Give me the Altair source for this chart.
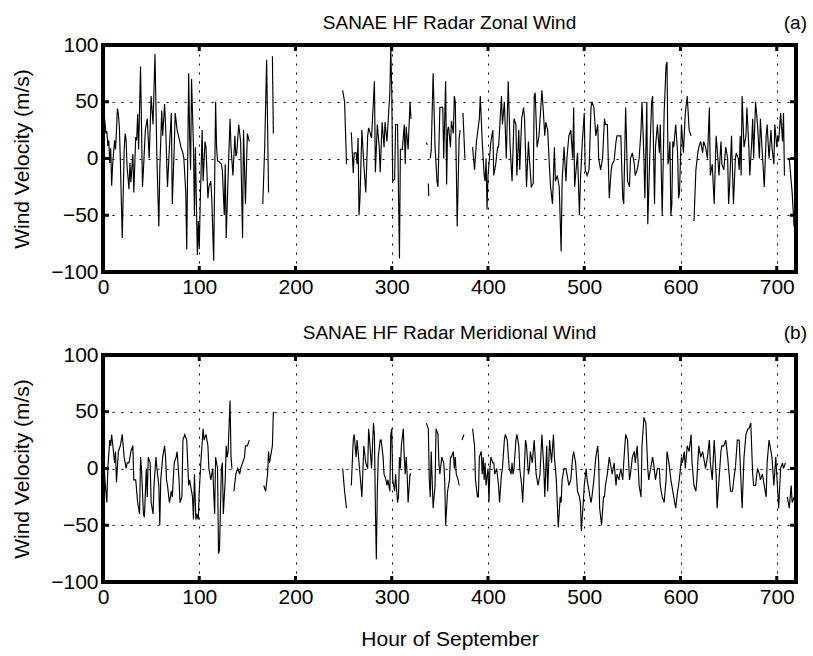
import altair as alt
import pandas as pd

FONT = "Liberation Sans"
W, H = 693, 227

x_tick_values = [0, 100, 200, 300, 400, 500, 600, 700]
y_tick_values = [-100, -50, 0, 50, 100]
inner_x_ticks = [100, 200, 300, 400, 500, 600, 700]
inner_y_ticks = [-50, 0, 50]

# Zonal wind (m/s) by hour of September, contiguous segments
zonal_segments = [
    [(1, 39), (2, 32), (3, 22), (4, 24), (5, 11), (6, 16), (7, -4), (8, 9), (9, -24), (10, -6),
     (11, 5), (12, 16), (13, 8), (14, 25), (15, 44), (16, 39), (17, 28), (18, -1), (20, -70), (22, 8),
     (23, 22), (24, 16), (25, -7), (27, -27), (28, -4), (29, -21), (31, 4), (32, -30), (34, 19), (35, 16),
     (36, 39), (37, 8), (39, 81), (41, -25), (42, -10), (44, 25), (46, 35), (48, 0), (50, 55), (52, 30),
     (54, 92), (56, 0), (58, -60), (59, -10), (61, 42), (62, 20), (64, 48), (65, 30), (67, -25), (69, 10),
     (71, 40), (72, -40), (74, 10), (75, 40), (77, 25), (79, 18), (81, 10), (83, 5), (84, 0), (86, -30),
     (87, -80), (89, 75), (90, 20), (91, -10), (92, 70), (94, 10), (95, -50), (96, 10), (98, -85), (99, -55),
     (100, -80), (101, -40), (103, 25), (104, -20), (106, 15), (107, 10), (109, -35), (110, -25), (112, -20), (113, -35),
     (115, -90), (117, 50), (118, 10), (119, -2), (121, -3), (123, -5), (124, -10), (126, -50), (127, -5), (128, -70),
     (130, -15), (132, 35), (133, 10), (135, -15), (137, 20), (138, 2), (139, 5), (141, 30), (143, 15), (145, -70),
     (146, 25), (148, -40), (150, 22), (152, 15)],
    [(166, -40), (168, 10), (170, 87), (172, -30)],
    [(176, 90), (177, 22)],
    [(249, 60), (251, 50), (253, -5)],
    [(258, 23), (260, -13), (261, 5), (263, 5), (264, -5), (265, 18), (266, -50), (267, -35), (269, 25), (271, -5),
     (273, -30), (275, 20), (276, 27), (279, 18), (282, 68), (283, -12), (285, 30), (287, 10), (288, -12), (290, 32),
     (292, 10), (293, 32), (295, 15), (298, 58), (299, 98), (300, 60), (301, -20), (303, -18), (304, 30), (306, 30),
     (308, -88), (309, 8), (311, 8), (313, 30), (314, -5), (315, 28), (317, 8), (319, 50), (320, 35)],
    [(336, 14), (337, 12)],
    [(338, -22), (338.5, -33)],
    [(340, 0), (341, 7), (343, 75), (345, 10), (347, -20), (348, -25), (350, 45), (352, 45), (353, 45), (354, 0),
     (356, 68), (357, -23), (358, 25), (359, 28), (361, 10), (362, 33), (364, 22), (365, 55), (366, 50), (368, -60),
     (370, 18), (371, 25)],
    [(374, 40), (376, 0)],
    [(384, 10), (385, 0), (386, -10), (388, 15), (391, 35), (392, 55), (394, 15), (396, -15), (397, -20), (398, 0),
     (399, -45), (400, -15), (401, -5), (403, 15), (405, 25), (406, -15), (408, -5), (410, 10), (411, 10), (414, 55),
     (415, 30), (417, 50), (419, 0), (421, 68), (423, 10), (425, -20), (427, 35), (429, 30), (430, -15), (432, 25),
     (433, -10), (435, 35), (437, 45), (438, 35), (440, -25), (442, 15), (443, 0), (445, -25), (447, -22), (448, 55),
     (449, 58), (451, 10), (453, 20), (456, 60), (457, 48), (459, 20), (460, 32), (462, 25), (464, -10), (465, -25),
     (467, -40), (469, 10), (470, -20), (472, -15), (474, -25), (476, -82), (477, -20), (479, 10), (481, -20), (482, 0),
     (484, 20), (486, 25), (488, 0), (489, 45), (490, -25), (493, 5), (495, -50), (496, -20), (498, 15), (500, 40),
     (501, -10), (503, -15), (505, -10), (507, 45), (508, 50), (510, 45), (512, 20), (514, 30), (515, 0), (517, -10),
     (519, 0), (521, 35), (522, 30), (524, 30), (526, -35), (528, -10), (529, -5), (531, -2), (533, 15), (534, 20),
     (536, 20), (538, 20), (540, -35), (541, -40), (543, 45), (545, -20), (547, -25), (548, 0), (550, 5), (552, -5),
     (553, -15), (555, -10), (557, 0), (559, 25), (560, 50), (562, 0), (563, -35), (565, 50), (566, -58), (568, 0),
     (570, 50), (571, 55), (573, -40), (574, 10), (576, 30), (578, 5), (579, 30), (581, -50), (583, 40), (585, 82),
     (586, 85), (587, -5), (588, 0), (589, 15), (590, -50), (591, -40), (592, 15), (593, 10), (595, 30), (597, 5),
     (598, -35), (599, -30), (601, 30), (603, 5), (605, 40), (607, 55), (609, 25), (611, 20)],
    [(614, -55), (616, -10), (618, 5), (619, 10), (621, 15), (623, 5), (624, 15), (626, 10), (628, 0), (630, 45),
     (631, -15), (633, -5), (635, -40), (637, 20), (638, 10), (640, -15), (642, 15), (643, -5), (645, -10), (647, 10),
     (649, 0), (650, -40), (651, -25), (653, 20), (655, -40), (657, 0), (658, 5), (660, 0), (661, -10), (662, 20),
     (663, -15), (664, 55), (666, 10), (668, 20), (669, 45), (671, 10), (672, -15), (674, 15), (675, 35), (676, 0),
     (678, 50), (680, 30), (682, 0), (683, 35), (685, 5), (687, -25), (689, 20), (690, 30), (692, 0), (694, 25),
     (695, 10), (697, -5), (698, 30), (700, 10), (701, 20), (702, 15), (704, 40), (706, 15), (707, 40), (708, -15)],
    [(711, 0), (713, 0), (715, -20), (716, -30), (718, -60), (719, -55)],
]

# Meridional wind (m/s) by hour of September, contiguous segments
meridional_segments = [
    [(1, 5), (2, -10), (4, -30), (5, 0), (7, 25), (8, 20), (9, 30), (10, 22), (12, 5), (13, 15),
     (14, -12), (16, 15), (18, 20), (20, 30), (22, 10), (24, 0), (25, 5), (27, 5), (29, 15), (31, 20),
     (32, -10), (34, -10), (36, -30), (38, -40), (39, 10), (40, 0), (42, -40), (43, -43), (45, 0), (46, -25),
     (47, 10), (49, 5), (50, -30), (52, -40), (53, -15), (55, 10), (56, 0), (58, -15), (59, -50), (60, -10),
     (62, 10), (64, 20), (65, 10), (66, -10), (67, -15), (69, -30), (71, -20), (72, -25), (74, 5), (76, 10),
     (77, 15), (79, -10), (80, -30), (82, -25), (83, 25), (85, 30), (87, 25), (89, -15), (90, -10), (92, -20),
     (93, -25), (94, -45), (95, -5), (96.5, -45), (97.5, -40), (99, -45), (100, -20), (102, 10), (104, 35), (105, 25),
     (107, 30), (109, 20), (110, 0), (112, -10), (114, 0), (116, -40), (117, 10), (119, 0), (120, -75), (121, -72),
     (123, 0), (124, 5), (125, -40), (127, -10), (128, 20), (129, 10), (130, 15), (132, 60), (133, 10), (134, 0)],
    [(136, -20), (138, -5), (140, 0), (142, -5), (143, 0), (145, 5), (147, 10), (148, 20), (150, 20), (152, 25)],
    [(167, -15), (169, -20), (171, -5), (172, 15), (173, 5), (174, 10), (176, 20), (177, 50)],
    [(249, 0), (251, -20), (253, -35)],
    [(258, -15), (260, 25), (261, 30), (263, 10), (264, 25), (266, 5), (268, -15), (269, -25), (271, 20), (273, 5),
     (275, 0), (276, 35), (277, 25), (279, 0), (281, 40), (282, 30), (283, -35), (284, -80), (285, -20), (286, 10),
     (288, 25), (289, 25), (291, 10), (292, -5), (294, -10), (295, -15), (296, -10), (298, -20), (299, 30), (300, 35),
     (301, -10), (303, -20), (304, -5), (306, -30), (307, -25), (308, 10), (309, 0), (310, 20), (312, 35), (313, 10),
     (314, -5), (315, 10), (316, -5), (317, -30), (319, -5), (320, -5)],
    [(336, 40), (338, 35), (339, -10), (340, -25), (341, 15), (343, -35), (345, -15), (346, 35), (348, 30), (349, 5),
     (350, -5), (352, 10), (354, 5), (355, -10), (356, -50), (357, -35), (358, -20), (360, -10), (361, 10), (362, 10),
     (364, 15), (365, 0), (366, 10), (367, -5), (369, -10), (370, -15)],
    [(373, 25), (375, 30)],
    [(384, 35), (386, 20), (387, -10), (389, -25), (390, -25), (391, 10), (393, 15), (394, -5), (395, 10), (396, -10),
     (397, 5), (398, -15), (400, 0), (401, -30), (402, 0), (403, 10), (405, 5), (406, 5), (407, -5), (409, 0),
     (411, -15), (412, -30), (414, -5), (415, 0), (417, 25), (418, 30), (420, 25), (422, 0), (424, -5), (425, 5),
     (426, -5), (427, 0), (429, 25), (430, 30), (432, 20), (433, 0), (435, -15), (436, -30), (438, 5), (439, 25),
     (440, 20), (442, -5), (443, 0), (444, 15), (446, 5), (448, 25), (449, 10), (450, -5), (452, -15), (454, -5),
     (456, 30), (458, 0), (459, -25), (461, 20), (462, -20), (464, 25), (466, 5), (468, 30), (469, 10), (471, -10),
     (473, -52), (475, -25), (476, -30), (477, -10), (479, 0), (481, 0), (482, -5), (484, -15), (486, -10), (488, 10),
     (489, 15), (491, 5), (493, -20), (495, -25), (496, -30), (497, -55), (499, -30), (500, -15), (502, 0), (503, -10),
     (505, -20), (507, -30), (508, -25), (510, -10), (512, 10), (514, 20), (515, 5), (516, -35), (518, -50), (520, -25),
     (521, -25), (522, -15), (524, -5), (526, 10), (528, 0), (529, -5), (531, 5), (533, -15), (534, -5), (536, -10),
     (538, 0), (540, -10), (541, 5), (543, 30), (545, 25), (547, -10), (548, -5), (550, 10), (552, 15), (553, 5),
     (555, 20), (557, -15), (559, -25), (560, 20), (562, 45), (564, 40), (566, 0), (567, -10), (569, 0), (571, 10),
     (572, 5), (574, -10), (576, 0), (578, 0), (579, -15), (581, -25), (583, -30), (585, -10), (586, 15), (588, 5),
     (590, -10), (592, -20), (593, -25), (595, -35), (597, -20), (598, -15), (600, 0), (601, 10), (602, 5), (604, 15),
     (605, 0), (607, 20), (609, 15), (611, 30), (612, 5), (614, -15), (616, -20), (617, -10), (619, 20), (621, 10),
     (623, 15), (624, 10), (626, 0), (628, 10), (630, 25), (631, 5), (633, -10), (635, 25), (637, -5), (638, -35),
     (640, -10), (642, 15), (643, 20), (645, 20), (647, 25), (649, 10), (650, 0), (652, -20), (654, -20), (656, -5),
     (657, 0), (659, 25), (661, 25), (663, -15), (664, -35), (666, 10), (668, 30), (670, 35), (671, 35), (673, 40),
     (675, -5), (676, -15), (678, -15), (680, 0), (682, -5), (683, -10), (685, -5), (687, -15), (689, -25), (690, 5),
     (692, 25), (694, 15), (695, 10), (697, -15), (699, 10), (701, -20), (702, -35), (704, 0), (706, 5), (707, 0),
     (709, 5)],
    [(711, -25), (713, -35), (715, -15), (716, -30), (718, -25)],
]


def to_frame(segments):
    rows = []
    for i, seg in enumerate(segments):
        for h, v in seg:
            rows.append({"hour": h, "wind": v, "seg": i})
    return pd.DataFrame(rows)


x_scale = alt.Scale(domain=[0, 720], nice=False, zero=False)
y_scale = alt.Scale(domain=[-100, 100], nice=False, zero=False)

LABEL_SIZE = 21
TITLE_SIZE = 19


def panel(segments, title, tag, show_xtitle):
    df = to_frame(segments)
    xaxis_kw = dict(values=x_tick_values, format="d", grid=True, gridColor="black",
                    gridDash=[2, 7], gridWidth=1, gridOpacity=1, ticks=False, domain=False,
                    labelFlush=False, labelPadding=4, labelFontSize=LABEL_SIZE, labelFont=FONT,
                    labelColor="black")
    if show_xtitle:
        xaxis_kw.update(title="Hour of September", titlePadding=21)
    else:
        xaxis_kw.update(title="")
    yaxis = alt.Axis(values=y_tick_values, format="d", grid=True, gridColor="black",
                     gridDash=[2, 7], gridWidth=1, gridOpacity=1, ticks=False, domain=False,
                     labelPadding=5, labelFontSize=LABEL_SIZE, labelFont=FONT, labelColor="black",
                     title="Wind Velocity (m/s)", titlePadding=18)
    lines = alt.Chart(df).mark_line(color="black", strokeWidth=1.15, clip=True).encode(
        x=alt.X("hour:Q", scale=x_scale, axis=alt.Axis(**xaxis_kw)),
        y=alt.Y("wind:Q", scale=y_scale, axis=yaxis),
        detail="seg:N",
    )
    xt = pd.DataFrame({"hour": inner_x_ticks})
    yt = pd.DataFrame({"wind": inner_y_ticks})
    tb = alt.Chart(xt).mark_rule(color="black", strokeWidth=3).encode(
        x=alt.X("hour:Q", scale=x_scale), y=alt.value(H), y2=alt.value(H - 6))
    tt = alt.Chart(xt).mark_rule(color="black", strokeWidth=3).encode(
        x=alt.X("hour:Q", scale=x_scale), y=alt.value(0), y2=alt.value(6))
    tl = alt.Chart(yt).mark_rule(color="black", strokeWidth=3).encode(
        y=alt.Y("wind:Q", scale=y_scale), x=alt.value(0), x2=alt.value(6))
    tr = alt.Chart(yt).mark_rule(color="black", strokeWidth=3).encode(
        y=alt.Y("wind:Q", scale=y_scale), x=alt.value(W - 6), x2=alt.value(W))
    ttl = alt.Chart(pd.DataFrame({"label": [title]})).mark_text(
        align="center", baseline="alphabetic", font=FONT, fontSize=TITLE_SIZE, color="black"
    ).encode(text="label:N", x=alt.value(W / 2), y=alt.value(-16))
    lab = alt.Chart(pd.DataFrame({"label": [tag]})).mark_text(
        align="right", baseline="alphabetic", font=FONT, fontSize=TITLE_SIZE, color="black"
    ).encode(text="label:N", x=alt.value(W + 11), y=alt.value(-16))
    return alt.layer(lines, tb, tt, tl, tr, ttl, lab).properties(width=W, height=H)


top = panel(zonal_segments, "SANAE HF Radar Zonal Wind", "(a)", False)
bottom = panel(meridional_segments, "SANAE HF Radar Meridional Wind", "(b)", True)

chart = alt.vconcat(top, bottom, spacing=23).properties(
    padding={"left": 9, "top": 12, "right": 4, "bottom": 5},
    background="white",
).configure_view(stroke="black", strokeWidth=4).configure_axis(
    titleFont=FONT, titleFontSize=LABEL_SIZE, titleFontWeight="normal", titleColor="black",
    labelFont=FONT, labelFontSize=LABEL_SIZE, labelColor="black",
)

chart.save("out.html", embed_options={"renderer": "svg", "actions": False})
